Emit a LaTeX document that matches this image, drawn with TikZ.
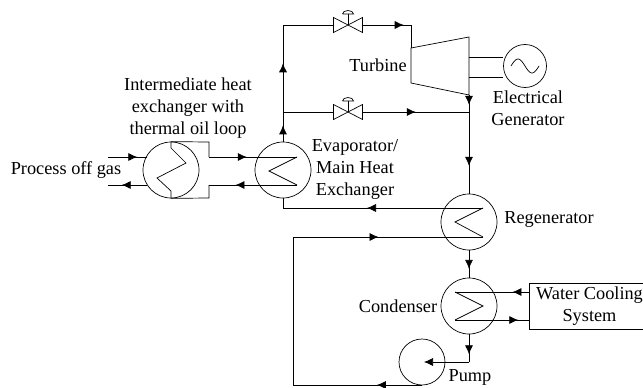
\documentclass[tikz,border=0pt]{standalone}
\usepackage{fontspec}
\setmainfont{Liberation Serif}
\usetikzlibrary{arrows.meta,calc,positioning,decorations.markings}
\tikzset{%
    flowat/.style={decoration={markings,mark=at position #1 with {\arrow{>}}},postaction={decorate}},
    valve/.pic={
      \draw (-14.5,-7.5) -- (14.5,7.5) -- (14.5,-7.5) -- (-14.5,7.5) -- cycle;
      \draw (0,0) -- (0,-11);
      \draw (-5.5,-11) -- (5.5,-11) arc[start angle=0,end angle=-180,x radius=5.5,y radius=3.5];
      \coordinate (-w) at (-14.5,0);
      \coordinate (-e) at (14.5,0);
    },
}
\tikzstyle{hx}=[draw, circle, minimum size=56pt, inner sep=0pt]
\tikzstyle{lbl}=[align=center, inner sep=0pt]
\tikzstyle{pt}=[coordinate]

\begin{document}
\begin{tikzpicture}[x=1pt,y=-1pt,line width=0.7pt,>={Latex[length=9pt,width=8pt]},
    every node/.append style={font=\fontsize{18.3}{22}\selectfont}]
      \useasboundingbox (0,0) rectangle (643,388);
      % heat exchangers
      \node [hx] (ihx) at (171,170) {};
      \node [hx, right of=ihx, node distance=112pt] (evap) {};
      \node [hx] (regen) at (469,222) {};
      \node [hx, below of=regen, node distance=84pt] (cond) {};
      \node [draw, circle, minimum size=46pt, inner sep=0pt] (pump) at (422,362) {};
      \node [draw, circle, minimum size=43pt, inner sep=0pt] (gen) at (525,66) {};
      \node [draw, lbl, minimum width=121pt, minimum height=46pt] (cool) at (589.5,306) {Water Cooling\\System};

      % labels
      \node [lbl] (ihxlbl) at (188,108) {Intermediate heat\\exchanger with\\thermal oil loop};
      \node [lbl] (gas) at (66,170) {Process off gas};
      \node [lbl] (evaplbl) at (355,169) {Evaporator/\\Main Heat\\Exchanger};
      \node [lbl] (turblbl) at (378,65) {Turbine};
      \node [lbl] (genlbl) at (528,108) {Electrical\\Generator};
      \node [lbl] (regenlbl) at (549,219) {Regenerator};
      \node [lbl] (condlbl) at (398,306) {Condenser};
      \node [lbl] (pumplbl) at (470,377) {Pump};

      % turbine
      \node [pt] (tla) at (411,48) {};
      \node [pt] (tlb) at (411,83) {};
      \node [pt] (tra) at (469,37) {};
      \node [pt] (trb) at (469,95) {};
      \draw (tla) -- (tra) -- (trb) -- (tlb) -- cycle;
      \draw (469,57) -- (gen.west |- 0,57);
      \draw (469,77) -- (gen.west |- 0,77);
      \draw plot[smooth,domain=0:360,samples=30] ({525+\x/360*28-14},{66-7*sin(\x)});

      % valves
      \pic (vtop) at (348,25) {valve};
      \pic (vlow) at (348,112) {valve};
      \node [pt] (stema) at (283,25) {};
      \node [pt] (stemb) at (283,112) {};
      \node [pt] (tin) at (411,25) {};
      \node [pt] (jn) at (469,112) {};
      \draw [flowat=0.55] (evap.north) -- (stemb);
      \draw [flowat=0.56] (stemb) -- (stema);
      \draw (stema) -- (vtop-w);
      \draw [flowat=0.85] (vtop-e) -- (tin);
      \draw (tin) -- (tla);
      \draw (stemb) -- (vlow-w);
      \draw [flowat=0.5] (vlow-e) -- (jn);
      \draw [flowat=0.1] (trb) -- (regen.north);
      \draw [flowat=0.66] (jn) -- (regen.north);

      % process side
      \node [pt] (gasin) at (108,157) {};
      \node [pt] (gasout) at (108,185) {};
      \node [pt] (gasina) at (147,157) {};
      \node [pt] (gasoutb) at (147,185) {};
      \draw [flowat=0.75] (gasin) -- (gasina);
      \draw [flowat=0.65] (gasoutb) -- (gasout);

      % oil loop
      \node [pt] (oila) at (209,142) {};
      \node [pt] (oilb) at (209,157) {};
      \node [pt] (oilc) at (209,185) {};
      \node [pt] (oild) at (209,198) {};
      \node [pt] (evapa) at ($(evap)+(14,-13)$) {};
      \node [pt] (evapb) at ($(evap)+(-14,1)$) {};
      \node [pt] (evapc) at ($(evap)+(14,15)$) {};
      \draw (ihx.north) -- (oila) -- (oilb);
      \draw [flowat=0.43] (oilb) -- (evapa);
      \draw (evapa) -- (evapb) -- (evapc);
      \draw [flowat=0.70] (evapc) -- (oilc);
      \draw (oilc) -- (oild) -- (ihx.south);
      \draw (ihx.north) -- ($(ihx)+(0,-22)$) -- ($(ihx)+(15,-7)$) -- ($(ihx)+(-14,8)$) -- ($(ihx)+(0,21)$) -- (ihx.south);

      % regenerator
      \node [pt] (rega) at ($(regen)+(14,-14)$) {};
      \node [pt] (regb) at ($(regen)+(-14,0)$) {};
      \node [pt] (regc) at ($(regen)+(14,15)$) {};
      \node [pt] (evapdn) at (283,208) {};
      \node [pt] (retn) at (293,237) {};
      \node [pt] (retm) at (293,385) {};
      \node [pt] (pumpb) at (422,385) {};
      \draw (rega) -- (regb) -- (regc);
      \draw [flowat=0.58] (rega) -- (evapdn);
      \draw (evapdn) -- (evap.south);
      \draw [flowat=0.45] (retn) -- (regc);
      \draw [flowat=0.35] (pumpb) -- (retm);
      \draw (retm) -- (retn);

      % condenser
      \node [pt] (cona) at ($(cond)+(-14,-14)$) {};
      \node [pt] (conb) at ($(cond)+(14,0)$) {};
      \node [pt] (conc) at ($(cond)+(-14,14)$) {};
      \node [pt] (coola) at (cool.west |- cona) {};
      \node [pt] (coolb) at (cool.west |- conc) {};
      \draw [flowat=0.22] (coola) -- (cona);
      \draw (cona) -- (conb) -- (conc);
      \draw [flowat=0.86] (conc) -- (coolb);
      \draw [flowat=0.68] (regen.south) -- (cond.north);

      % pump
      \node [pt] (pumpin) at ($(pump)+(2,0)$) {};
      \node [pt] (pumpc) at (cond.south |- pump) {};
      \draw [flowat=0.72] (cond.south) -- (pumpc);
      \draw [->] (pumpc) -- (pumpin);
\end{tikzpicture}
\end{document}
